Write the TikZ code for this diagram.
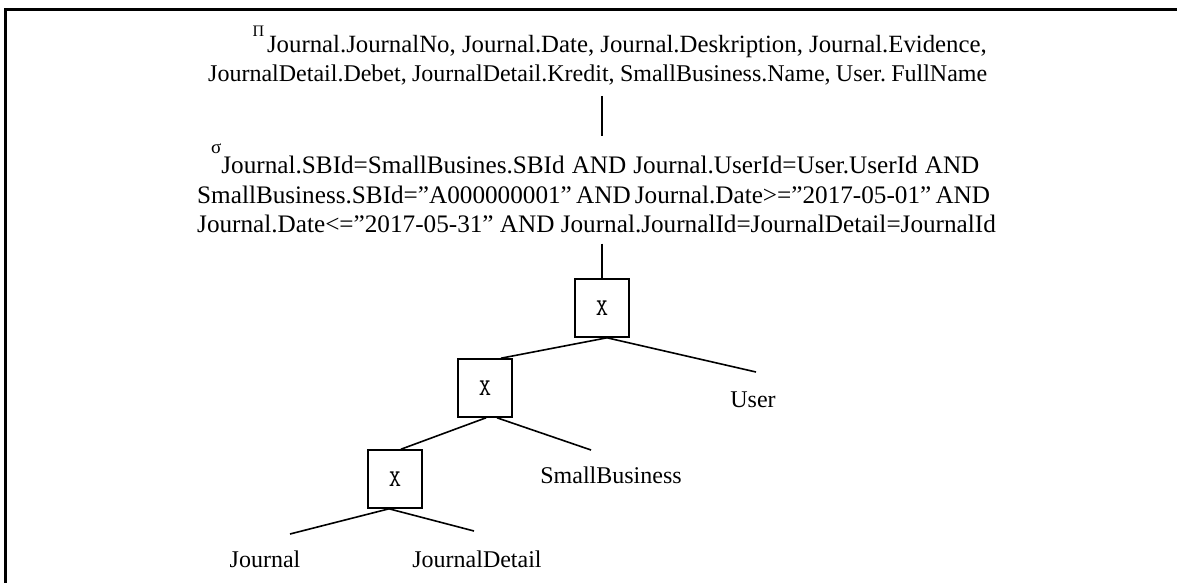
\documentclass[tikz,border=0pt]{standalone}
\usepackage{fontspec}
\setmainfont{Liberation Serif}
\frenchspacing
\begin{document}
\begin{tikzpicture}[x=1pt,y=-1pt,
  txt/.style={font=\fontsize{24}{24}\selectfont, inner sep=0pt},
  seltxt/.style={font=\fontsize{25.2}{25.2}\selectfont, inner sep=0pt},
  opbox/.style={draw, line width=1.6pt, minimum width=54pt, minimum height=58pt, inner sep=0pt, font=\ttfamily\fontsize{24}{24}\selectfont},
  edge/.style={line width=1.6pt}]
\useasboundingbox (0,0) rectangle (1177,583);
\draw[line width=3pt] (1177,9.5) -- (5.5,9.5) -- (5.5,583);

% projection
\node[txt, anchor=base east, font=\fontsize{24.8}{24.8}\selectfont] (p1) at (987,53) {\raisebox{16pt}{\fontsize{16}{16}\selectfont Π}\hspace{3pt}Journal.JournalNo, Journal.Date, Journal.Deskription, Journal.Evidence,};
\node[txt, anchor=base west] (p2) at (208,82) {\makebox[779pt][s]{JournalDetail.Debet, JournalDetail.Kredit, SmallBusiness.Name, User. FullName}};

% selection
\node[seltxt, anchor=base west] (s1) at (211,173) {\raisebox{20pt}{\fontsize{19}{19}\selectfont σ}\makebox[758pt][s]{Journal.SBId=SmallBusines.SBId AND Journal.UserId=User.UserId AND}};
\node[seltxt, anchor=base west] (s2) at (197,203) {\makebox[792pt][s]{SmallBusiness.SBId=”A000000001” AND Journal.Date>=”2017-05-01” AND}};
\node[seltxt, anchor=base west] (s3) at (197,232) {Journal.Date<=”2017-05-31” AND Journal.JournalId=JournalDetail=JournalId};

% operator boxes
\node[opbox] (b1) at (602,308) {X};
\node[opbox] (b2) at (485,388) {X};
\node[opbox] (b3) at (395,479) {X};

% leaves
\node[txt, anchor=base] (user) at (753,407) {User};
\node[txt, anchor=base] (sb) at (611,483) {SmallBusiness};
\node[txt, anchor=base] (jr) at (265,567) {Journal};
\node[txt, anchor=base] (jd) at (477,567) {JournalDetail};

\coordinate (uE) at (756,372);
\coordinate (sbE) at (591,450);
\coordinate (jrE) at (290,534);
\coordinate (jdE) at (474,531);

% connectors
\draw[edge, shorten <=10pt, shorten >=7pt] (b1.north |- p2.south) -- (b1.north |- s1.north);
\draw[edge, shorten <=11pt] (b1.north |- s3.south) -- (b1.north);
\draw[edge] ([xshift=5pt]b1.south) -- ([xshift=16pt]b2.north);
\draw[edge] ([xshift=5pt]b1.south) -- (uE);
\draw[edge] ([xshift=1pt]b2.south) -- ([xshift=6pt]b3.north);
\draw[edge] ([xshift=12pt]b2.south) -- (sbE);
\draw[edge] ([xshift=-6pt]b3.south) -- (jrE);
\draw[edge] ([xshift=-6pt]b3.south) -- (jdE);
\end{tikzpicture}
\end{document}
